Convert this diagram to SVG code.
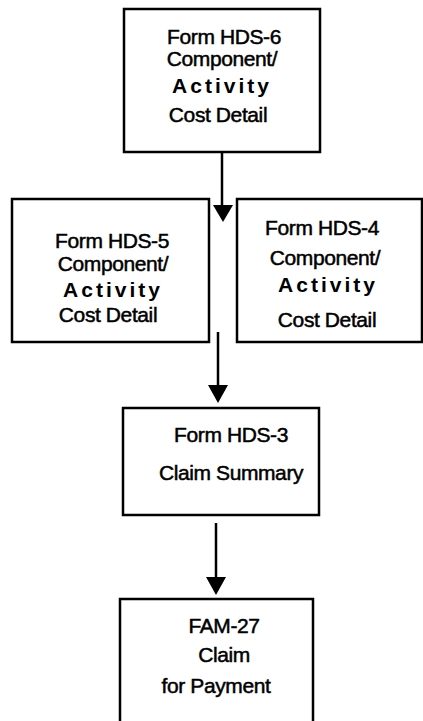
<svg xmlns="http://www.w3.org/2000/svg" width="423" height="721" viewBox="0 0 423 721">
<defs>
<style>
.box{fill:#fff;stroke:#000;stroke-width:2.5}
.t{font-family:"Liberation Sans",Arial,sans-serif;font-size:21px;fill:#000;text-anchor:middle;stroke:#000;stroke-width:0.5;letter-spacing:-0.4px}
.a{letter-spacing:3px;font-weight:bold;stroke-width:0}
.ln{stroke:#000;stroke-width:2.5;fill:none}
</style>
</defs>
<rect width="423" height="721" fill="#fff"/>
<g id="connectors">
<line class="ln" x1="222" y1="153" x2="222" y2="207"/>
<path d="M213,205 L233,205 L223,222 Z" fill="#000"/>
<line class="ln" x1="218" y1="332" x2="218" y2="387"/>
<path d="M208,385 L228,385 L218,403 Z" fill="#000"/>
<line class="ln" x1="216" y1="523" x2="216" y2="579"/>
<path d="M206,577 L226,577 L216,595 Z" fill="#000"/>
</g>
<g id="hds6">
<rect class="box" x="124" y="9" width="196" height="143"/>
<text class="t" x="224" y="44">Form HDS-6</text>
<text class="t" x="222" y="66">Component/</text>
<text class="t a" x="222" y="93">Activity</text>
<text class="t" x="218" y="122">Cost Detail</text>
</g>
<g id="hds5">
<rect class="box" x="12" y="199" width="197" height="143"/>
<text class="t" x="112" y="248">Form HDS-5</text>
<text class="t" x="113" y="271">Component/</text>
<text class="t a" x="113" y="297">Activity</text>
<text class="t" x="108" y="322">Cost Detail</text>
</g>
<g id="hds4">
<rect class="box" x="237" y="199" width="185" height="143"/>
<text class="t" x="322" y="235">Form HDS-4</text>
<text class="t" x="325" y="265">Component/</text>
<text class="t a" x="328" y="292">Activity</text>
<text class="t" x="327" y="327">Cost Detail</text>
</g>
<g id="hds3">
<rect class="box" x="123" y="408" width="196" height="107"/>
<text class="t" x="231" y="442">Form HDS-3</text>
<text class="t" x="231" y="480">Claim Summary</text>
</g>
<g id="fam27">
<rect class="box" x="120" y="599" width="193" height="130"/>
<text class="t" x="224" y="633">FAM-27</text>
<text class="t" x="224" y="662">Claim</text>
<text class="t" x="216" y="693">for Payment</text>
</g>
</svg>
